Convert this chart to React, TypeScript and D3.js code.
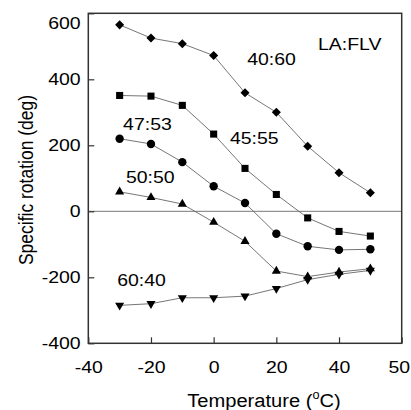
import React, { useEffect, useRef } from 'react';
import * as d3 from 'd3';

// temperatures (deg C) measured for every blend
const temps = [-30, -20, -10, 0, 10, 20, 30, 40, 50];

// specific rotation (deg) for each LA:FLV ratio
const ratio4060 = [565, 525, 508, 472, 359, 300, 197, 117, 56];
const ratio4555 = [351, 349, 321, 234, 130, 51, -20, -61, -75];
const ratio4753 = [220, 204, 149, 76, 25, -68, -106, -117, -115];
const ratio5050 = [59, 42, 22, -33, -91, -181, -198, -184, -174];
const ratio6040 = [-285, -280, -262, -262, -257, -234, -207, -191, -179];

const xTickValues = [-40, -20, 0, 20, 40, 60];
const xTickLabels = ['-40', '-20', '0', '20', '40', '50'];
const yTickValues = [-400, -200, 0, 200, 400, 600];

// text labels placed in data units
const labelText = ['LA:FLV', '40:60', '45:55', '47:53', '50:50', '60:40'];
const labelX = [33.3, 10.7, 5.2, -28.9, -28, -30.8];
const labelY = [489, 443, 204, 246, 86, -226];

const FONT = '"Liberation Sans", Arial, sans-serif';

export default function App() {
  const ref = useRef<SVGSVGElement>(null);

  useEffect(() => {
    const svg = d3.select(ref.current);
    svg.selectAll('*').remove();

    const left = 88.3, right = 401.7, top = 13.3, bottom = 343.3;
    const x = d3.scaleLinear().domain([-40, 60]).range([left, right]);
    const y = d3.scaleLinear().domain([-400, 600]).range([bottom, top]);
    const stretch = 1.18;

    // zero line
    svg.append('line')
      .attr('x1', left).attr('x2', right)
      .attr('y1', y(0)).attr('y2', y(0))
      .attr('stroke', '#777').attr('stroke-width', 1);

    // axes
    const xAxis = svg.append('g')
      .attr('transform', 'translate(0,' + bottom + ')')
      .call(d3.axisBottom(x)
        .tickValues(xTickValues)
        .tickSizeInner(-6)
        .tickSizeOuter(0)
        .tickPadding(18)
        .tickFormat((d, i) => xTickLabels[i]));
    const yAxis = svg.append('g')
      .attr('transform', 'translate(' + left + ',0)')
      .call(d3.axisLeft(y)
        .tickValues(yTickValues)
        .tickSizeInner(-6)
        .tickSizeOuter(0)
        .tickPadding(6.5)
        .tickFormat(d => String(d)));

    [xAxis, yAxis].forEach(g => {
      g.select('.domain').remove();
      g.selectAll('line').attr('stroke', '#333').attr('stroke-width', 1.2);
      g.selectAll('text')
        .attr('font-family', FONT)
        .attr('font-size', 16.5)
        .attr('fill', '#000')
        .attr('transform', 'scale(' + stretch + ',1)');
    });
    // top label is pushed down inside the frame, last x label kept inside the page
    yAxis.selectAll<SVGTextElement, number>('text')
      .attr('dy', d => (y(d) < top + 5 ? '0.95em' : '0.32em'));
    xAxis.selectAll<SVGTextElement, number>('text')
      .attr('dx', d => (x(d) > right - 5 ? -2.5 : 0));

    // frame
    svg.append('rect')
      .attr('x', left).attr('y', top)
      .attr('width', right - left).attr('height', bottom - top)
      .attr('fill', 'none').attr('stroke', '#333').attr('stroke-width', 1.5);

    const series = [
      { values: ratio4060, shape: d3.symbolSquare, size: 41, rot: 45 },
      { values: ratio4555, shape: d3.symbolSquare, size: 50, rot: 0 },
      { values: ratio4753, shape: d3.symbolCircle, size: 55, rot: 0 },
      { values: ratio5050, shape: d3.symbolTriangle, size: 36, rot: 0 },
      { values: ratio6040, shape: d3.symbolTriangle, size: 36, rot: 180 },
    ];

    const line = d3.line<number>()
      .x((d, i) => x(temps[i]))
      .y(d => y(d));

    series.forEach(s => {
      svg.append('path')
        .attr('d', line(s.values))
        .attr('fill', 'none')
        .attr('stroke', '#666')
        .attr('stroke-width', 0.9);
    });

    series.forEach(s => {
      const sym = d3.symbol().type(s.shape).size(s.size)();
      svg.append('g')
        .selectAll('path')
        .data(s.values)
        .enter()
        .append('path')
        .attr('d', sym)
        .attr('transform', (d, i) => 'translate(' + x(temps[i]) + ',' + y(d) + ') rotate(' + s.rot + ')')
        .attr('fill', '#000');
    });

    // annotations
    labelText.forEach((t, i) => {
      svg.append('text')
        .attr('transform', 'translate(' + x(labelX[i]) + ',' + y(labelY[i]) + ') scale(' + stretch + ',1)')
        .attr('font-family', FONT)
        .attr('font-size', 16.5)
        .text(t);
    });

    // axis titles
    svg.append('text')
      .attr('transform', 'translate(33,180) rotate(-90) scale(1,1.15)')
      .attr('text-anchor', 'middle')
      .attr('font-family', FONT)
      .attr('font-size', 17.5)
      .text('Specific rotation (deg)');

    const xt = svg.append('text')
      .attr('transform', 'translate(264,407) scale(1.06,1)')
      .attr('text-anchor', 'middle')
      .attr('font-family', FONT)
      .attr('font-size', 19);
    xt.append('tspan').text('Temperature (');
    xt.append('tspan').attr('font-size', 12).attr('dy', -8).text('o');
    xt.append('tspan').attr('dy', 8).text('C)');
  }, []);

  return (
    <svg
      ref={ref}
      width={411}
      height={410}
      style={{ position: 'absolute', left: 0, top: 0, background: '#fff' }}
    />
  );
}
